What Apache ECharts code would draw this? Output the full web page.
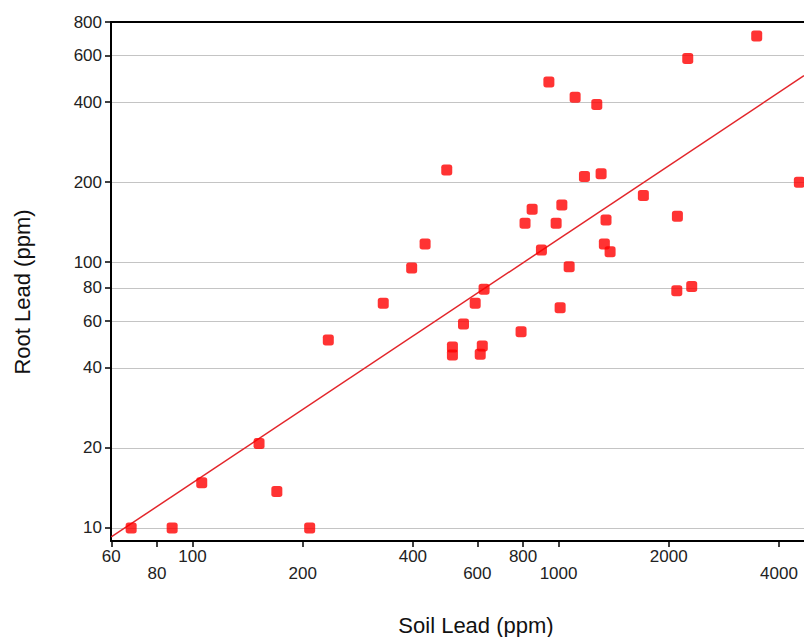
<!DOCTYPE html>
<html><head><meta charset="utf-8">
<script src="https://cdn.jsdelivr.net/npm/echarts@6/dist/echarts.min.js"></script>
<style>html,body{margin:0;padding:0;background:#fff}#c{width:804px;height:637px}</style>
</head><body><div id="c"></div>
<script>
const soilLead = [68,88,106,152,170,209,235,332,397,432,495,513,513,550,592,611,619,626,790,810,847,898,941,985,1010,1021,1069,1110,1177,1272,1307,1334,1348,1383,1705,2104,2112,2254,2311,3478,4548];
const rootLead = [10,10,14.8,20.8,13.7,10,51,70,95,117,222,48,44.7,58.5,70,45,48.4,79,54.7,140,158,111,476,140,67.4,164,96,417,210,392,215,117,144,109.5,178,78,149,584,81,710,200];
const fitX = [60, 4683];
const fitY = [9.25, 503];
const xTicks = [60,80,100,200,400,600,800,1000,2000,4000];
const xTicksLowerRow = [80,200,600,1000,4000];
const yTicks = [10,20,40,60,80,100,200,400,600,800];

const FONT = 'Liberation Sans, Arial, sans-serif';
const X_MIN = 59.9, X_MAX = 4683;
const chart = echarts.init(document.getElementById('c'), null, {renderer:'svg'});
chart.setOption({
  backgroundColor:'#fff',
  animation:false,
  grid:{left:111, top:22, right:0, height:519, show:false},
  xAxis:[{type:'log', logBase:10, min:X_MIN, max:X_MAX,
    axisLine:{show:true, onZero:false, lineStyle:{color:'#000', width:2}},
    axisTick:{show:true, customValues:xTicks, length:6, lineStyle:{color:'#000', width:1.5}},
    axisLabel:{customValues:xTicks, margin:7, fontSize:17, fontFamily:FONT, color:'#222', lineHeight:17,
      formatter: v => { const r = Math.round(v); return xTicksLowerRow.includes(r) ? '\n' + r : String(r); }},
    splitLine:{show:false}, minorTick:{show:false}
  },{type:'log', logBase:10, min:X_MIN, max:X_MAX, position:'top',
    axisLine:{show:true, onZero:false, lineStyle:{color:'#000', width:2}},
    axisTick:{show:false}, axisLabel:{show:false}, splitLine:{show:false}, minorTick:{show:false}
  }],
  yAxis:{type:'log', logBase:10, min:8.93, max:801,
    axisLine:{show:true, onZero:false, lineStyle:{color:'#000', width:2}},
    axisTick:{show:true, customValues:yTicks, length:6, lineStyle:{color:'#000', width:1.5}},
    axisLabel:{customValues:yTicks, margin:9, fontSize:17, fontFamily:FONT, color:'#222',
      formatter: v => String(Math.round(v))},
    splitLine:{show:true, lineStyle:{color:'#c4c4c4', width:1}}, minorTick:{show:false}
  },
  series:[
    {type:'line', xAxisIndex:0, data: fitX.map((x,i)=>[x, fitY[i]]), symbol:'none', lineStyle:{color:'#e3262b', width:1.5}, z:1, silent:true},
    {type:'scatter', xAxisIndex:0, data: soilLead.map((x,i)=>[x, rootLead[i]]), symbol:'roundRect', symbolSize:11, itemStyle:{color:'#ff0000'}, z:2}
  ],
  graphic:[
    {type:'text', x:476, y:625, style:{text:'Soil Lead (ppm)', font:'22px ' + FONT, fill:'#111', textAlign:'center', textVerticalAlign:'middle'}},
    {type:'text', x:22, y:292, rotation:Math.PI/2, style:{text:'Root Lead (ppm)', font:'22px ' + FONT, fill:'#111', textAlign:'center', textVerticalAlign:'middle'}}
  ]
});
</script></body></html>
